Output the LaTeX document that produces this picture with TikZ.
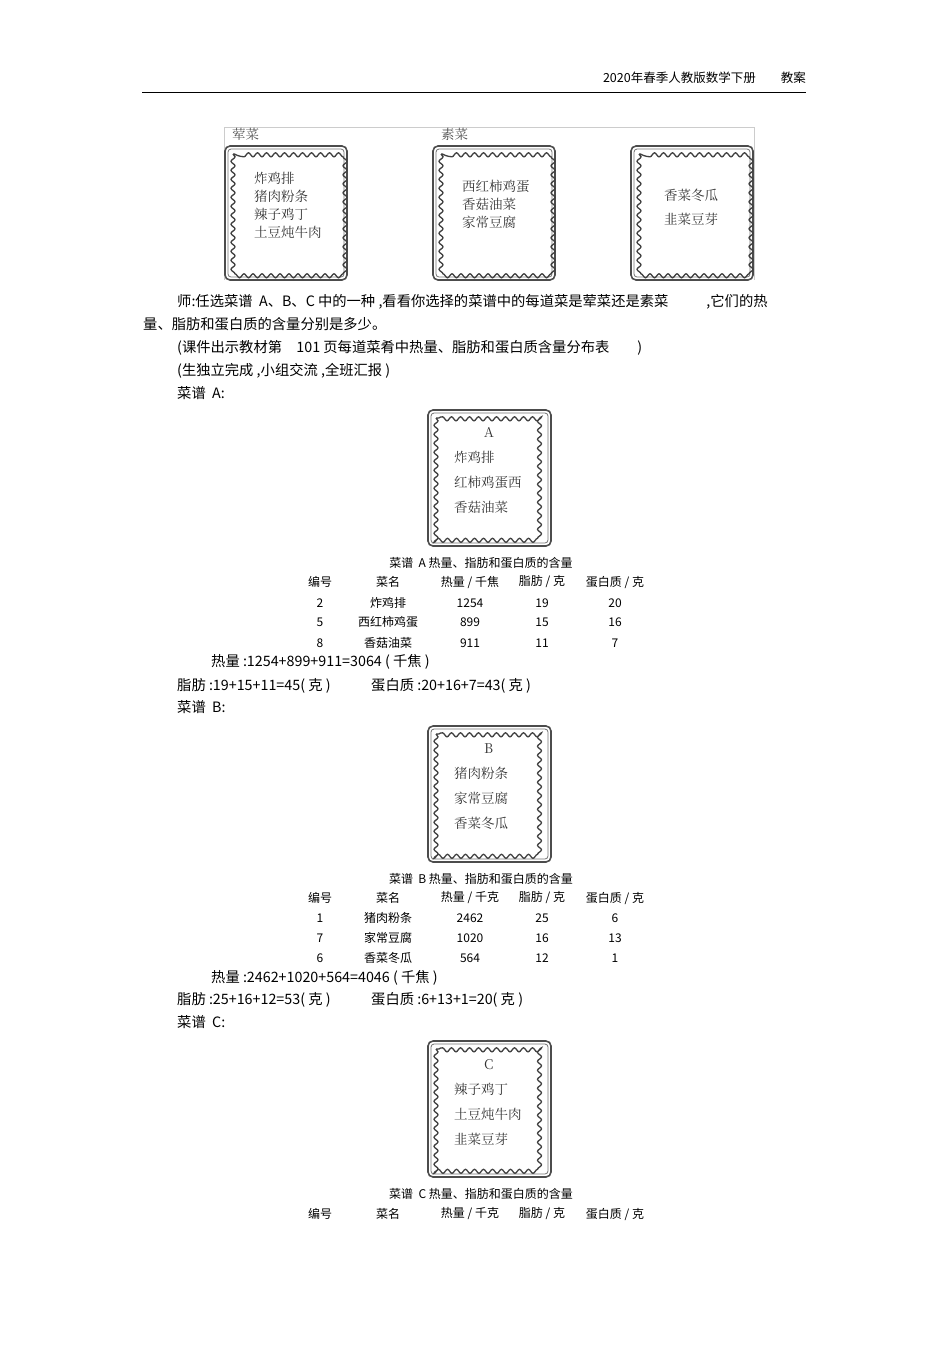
\documentclass[tikz,border=0pt]{standalone}
\usepackage{fontspec}
\setmainfont{Liberation Sans}
\newfontfamily\cjk{Noto Sans CJK SC}
\newfontfamily\cjks{Noto Serif CJK SC}
\usetikzlibrary{decorations.pathmorphing}
\tikzset{
 body/.style={anchor=west,inner sep=0pt,font=\cjk\fontsize{14.3}{15}\selectfont},
 tab/.style={inner sep=0pt,font=\cjk\fontsize{12}{12}\selectfont},
 menu/.style={anchor=west,inner sep=0pt,align=left,font=\cjk\fontsize{13}{21}\selectfont,text=black!80},
}
\newcommand{\stampbox}[5]{%
 \draw[black!70,line width=1.6pt,rounded corners=5pt] (#1,#2) rectangle (#3,#4);
 \draw[black!55,line width=0.8pt,rounded corners=3pt] (#1+3,#2+3) rectangle (#3-3,#4-3);
 \draw[black!75,line width=1.3pt,decorate,decoration={snake,amplitude=2pt,segment length=9pt}] (#1+8,#2+8) rectangle (#3-8,#4-8);
 \node[coordinate] (#5) at ({(#1+#3)/2},{(#2+#4)/2}) {};
}
\begin{document}
\begin{tikzpicture}[x=1pt,y=-1pt]
\useasboundingbox (0,0) rectangle (950,1345);
\node[anchor=east,inner sep=0pt,font=\cjk\fontsize{12.5}{12}\selectfont] (hdr) at (806,78) {2020年春季人教版数学下册\qquad 教案};
\draw[line width=0.8pt] (142,92) -- (806,92);
% top image
\draw[black!20] (224,280) -- (224,127) -- (754,127) -- (754,280);
\node[anchor=west,inner sep=0pt,font=\cjks\fontsize{13.5}{13}\selectfont,text=black!70] (l1) at (232,134) {荤菜};
\node[anchor=west,inner sep=0pt,font=\cjks\fontsize{13.5}{13}\selectfont,text=black!70] (l2) at (441,134) {素菜};
\stampbox{225}{146}{347}{280}{s1}
\stampbox{433}{146}{555}{280}{s2}
\stampbox{631}{146}{753}{280}{s3}
\node[menu,font=\cjks\fontsize{13.5}{18}\selectfont] (t1) at (254,205) {炸鸡排\\猪肉粉条\\辣子鸡丁\\土豆炖牛肉};
\node[menu,font=\cjks\fontsize{13.5}{18}\selectfont] (t2) at (462,204) {西红柿鸡蛋\\香菇油菜\\家常豆腐};
\node[menu,font=\cjks\fontsize{13.5}{24}\selectfont] (t3) at (664,207) {香菜冬瓜\\韭菜豆芽};
% text
\node[body] (p1) at (177,302) {师:任选菜谱\ \ A、B、C 中的一种\ ,看看你选择的菜谱中的每道菜是荤菜还是素菜\hspace*{38pt},它们的热};
\node[body] (p2) at (143,324) {量、脂肪和蛋白质的含量分别是多少。};
\node[body] (p3) at (177,348) {(课件出示教材第\quad 101 页每道菜肴中热量、脂肪和蛋白质含量分布表\hspace*{28pt})};
\node[body] (p4) at (177,371) {(生独立完成\ ,小组交流\ ,全班汇报 )};
\node[body] (p5) at (177,393) {菜谱\ \ A:};
% A
\stampbox{428}{410}{551}{546}{sa}
\node[menu,font=\cjks\fontsize{13.5}{25}\selectfont] (ta) at (454,471) {\hspace*{30pt}A\\炸鸡排\\红柿鸡蛋西\\香菇油菜};
\node[tab] (ca) at (481,563) {菜谱\ \ A 热量、指肪和蛋白质的含量};
\foreach \x/\t in {320/编号,388/菜名,470/{热量 / 千焦},542/{脂肪 / 克},615/{蛋白质 / 克}}{\node[tab] at (\x,582) {\t};}
\foreach \y/\a/\b/\c/\d/\e in {603/2/炸鸡排/1254/19/20,622/5/西红柿鸡蛋/899/15/16,643/8/香菇油菜/911/11/7}{
 \node[tab] at (320,\y) {\a};\node[tab] at (388,\y) {\b};\node[tab] at (470,\y) {\c};\node[tab] at (542,\y) {\d};\node[tab] at (615,\y) {\e};}
\node[body] (a1) at (211,662) {热量 :1254+899+911=3064 ( 千焦 )};
\node[body] (a2) at (177,686) {脂肪 :19+15+11=45( 克 )};
\node[body] (a3) at (371,686) {蛋白质 :20+16+7=43( 克 )};
\node[body] (a4) at (177,707) {菜谱\ \ B:};
% B
\stampbox{428}{726}{551}{862}{sb}
\node[menu,font=\cjks\fontsize{13.5}{25}\selectfont] (tb) at (454,787) {\hspace*{30pt}B\\猪肉粉条\\家常豆腐\\香菜冬瓜};
\node[tab] (cb) at (481,879) {菜谱\ \ B 热量、指肪和蛋白质的含量};
\foreach \x/\t in {320/编号,388/菜名,470/{热量 / 千克},542/{脂肪 / 克},615/{蛋白质 / 克}}{\node[tab] at (\x,898) {\t};}
\foreach \y/\a/\b/\c/\d/\e in {918/1/猪肉粉条/2462/25/6,938/7/家常豆腐/1020/16/13,958/6/香菜冬瓜/564/12/1}{
 \node[tab] at (320,\y) {\a};\node[tab] at (388,\y) {\b};\node[tab] at (470,\y) {\c};\node[tab] at (542,\y) {\d};\node[tab] at (615,\y) {\e};}
\node[body] (b1) at (211,978) {热量 :2462+1020+564=4046 ( 千焦 )};
\node[body] (b2) at (177,1000) {脂肪 :25+16+12=53( 克 )};
\node[body] (b3) at (371,1000) {蛋白质 :6+13+1=20( 克 )};
\node[body] (b4) at (177,1022) {菜谱\ \ C:};
% C
\stampbox{428}{1041}{551}{1177}{sc}
\node[menu,font=\cjks\fontsize{13.5}{25}\selectfont] (tc) at (454,1102) {\hspace*{30pt}C\\辣子鸡丁\\土豆炖牛肉\\韭菜豆芽};
\node[tab] (cc) at (481,1194) {菜谱\ \ C 热量、指肪和蛋白质的含量};
\foreach \x/\t in {320/编号,388/菜名,470/{热量 / 千克},542/{脂肪 / 克},615/{蛋白质 / 克}}{\node[tab] at (\x,1214) {\t};}
\end{tikzpicture}
\end{document}
